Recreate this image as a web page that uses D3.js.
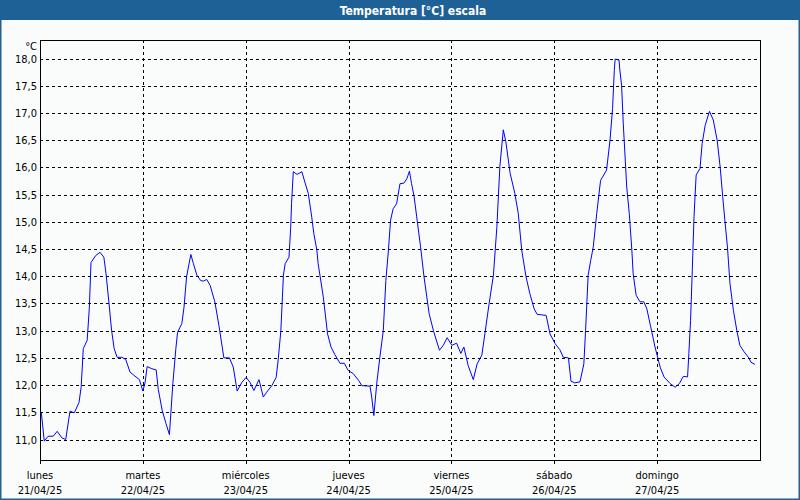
<!DOCTYPE html>
<html><head><meta charset="utf-8">
<script src="https://cdn.jsdelivr.net/npm/d3@7"></script>
<style>
html,body{margin:0;padding:0;background:#fafcfc;}
svg{display:block;}
text{font-family:'DejaVu Sans Condensed','Liberation Sans',sans-serif;}
</style></head>
<body><svg id="c" width="800" height="500"></svg>
<script>
const title = "Temperatura [°C] escala";
const unit = "°C";
const dayNames = ["lunes","martes","miércoles","jueves","viernes","sábado","domingo"];
const dayDates = ["21/04/25","22/04/25","23/04/25","24/04/25","25/04/25","26/04/25","27/04/25"];
const yTicks = [11.0,11.5,12.0,12.5,13.0,13.5,14.0,14.5,15.0,15.5,16.0,16.5,17.0,17.5,18.0];
// hours since lunes 21/04/25 00:00
const hours = [0.3,1.0,1.9,3.1,4.0,5.1,6.0,7.0,8.0,9.1,9.6,10.1,11.0,11.5,11.9,13.0,14.0,14.9,15.4,16.1,16.7,17.3,18.0,19.1,20.0,21.0,21.9,23.2,
24.0,24.5,25.0,26.1,27.1,27.6,28.5,29.4,30.2,31.0,31.7,32.1,33.1,33.6,34.2,35.2,35.8,36.6,37.5,38.1,38.9,39.7,40.8,41.8,42.9,44.2,45.1,46.0,47.1,
48.1,49.0,49.9,51.1,52.1,52.9,54.1,55.1,55.6,56.2,56.8,57.2,58.1,58.5,58.7,59.1,60.0,61.1,61.8,62.6,63.4,63.9,64.6,64.9,66.1,67.1,67.9,68.8,70.0,71.0,71.9,
73.1,74.3,75.1,77.0,77.4,77.9,78.6,79.3,80.1,80.7,81.3,81.8,82.4,83.2,84.0,84.9,85.6,86.2,86.7,87.3,87.9,88.8,89.6,90.8,91.8,93.2,94.1,95.0,
96.1,97.2,98.2,98.9,99.9,101.1,102.0,103.1,103.8,104.8,105.8,106.6,107.3,108.1,108.7,109.7,110.8,111.6,112.4,113.4,114.3,115.3,116.0,118.1,119.0,
120.2,121.3,122.1,123.3,123.9,124.8,126.0,126.9,127.3,127.9,128.5,129.1,129.9,130.8,132.2,133.0,133.6,134.0,134.2,135.1,135.3,135.7,136.1,136.9,137.5,138.1,138.4,139.1,140.0,140.9,141.6,142.5,143.5,
144.7,145.6,147.0,148.2,149.2,150.1,151.1,151.4,151.8,152.2,152.6,153.1,154.0,154.5,155.2,156.2,157.1,158.0,158.7,159.3,159.8,160.4,161.0,161.8,162.6,163.3,164.3,165.3,165.9,166.8];
const temps = [11.50,10.97,11.06,11.06,11.15,11.03,11.00,11.52,11.49,11.68,11.96,12.67,12.82,13.40,14.25,14.38,14.44,14.35,14.05,13.50,13.01,12.67,12.51,12.51,12.47,12.24,12.18,12.10,
11.89,12.04,12.34,12.30,12.28,11.92,11.54,11.29,11.09,12.03,12.67,12.97,13.13,13.43,13.99,14.40,14.23,14.02,13.92,13.91,13.94,13.83,13.53,13.07,12.50,12.50,12.33,11.89,12.05,
12.14,12.05,11.90,12.10,11.78,11.87,11.99,12.14,12.48,13.00,14.02,14.23,14.35,14.90,15.34,15.92,15.87,15.92,15.73,15.52,15.09,14.78,14.48,14.23,13.62,12.94,12.70,12.56,12.40,12.40,12.27,
12.21,12.09,11.99,11.98,11.78,11.44,12.05,12.51,13.00,13.92,14.48,15.03,15.24,15.33,15.70,15.71,15.79,15.93,15.70,15.46,15.09,14.54,13.99,13.31,13.00,12.64,12.73,12.87,
12.73,12.77,12.58,12.70,12.36,12.10,12.39,12.55,12.94,13.50,14.02,14.90,16.01,16.69,16.47,15.89,15.52,15.15,14.48,13.99,13.68,13.40,13.30,13.28,12.94,
12.76,12.65,12.51,12.50,12.07,12.04,12.06,12.39,13.00,14.02,14.29,14.54,15.15,15.76,15.95,16.50,17.08,17.78,17.99,17.97,17.79,17.51,16.80,15.64,15.15,14.48,14.05,13.65,13.53,13.53,13.40,13.07,12.70,
12.33,12.15,12.03,11.96,12.03,12.16,12.15,12.58,13.19,14.11,15.09,15.86,15.98,16.44,16.77,17.03,16.87,16.50,16.01,15.46,15.03,14.54,13.86,13.37,13.00,12.73,12.61,12.51,12.42,12.38];

const W = 800, H = 500;
const plot = {l:40, t:40, r:760, b:460};
const svg = d3.select("#c");
const x = d3.scaleLinear().domain([0, 168]).range([plot.l, plot.r]);
const y = d3.scaleLinear().domain([11, 18]).range([439.5, 58.5]);

svg.append("rect").attr("x",0).attr("y",0).attr("width",W).attr("height",H).attr("fill","#fafcfc");
// title bar
svg.append("rect").attr("x",0).attr("y",0).attr("width",W).attr("height",20).attr("fill","#1e6197");
svg.append("text").attr("x",413).attr("y",14.5).attr("text-anchor","middle")
  .attr("fill","#ffffff").attr("font-weight","bold").attr("font-size","12px").text(title);
// outer frame
svg.append("rect").attr("x",0.75).attr("y",0.75).attr("width",W-1.5).attr("height",H-1.5)
  .attr("fill","none").attr("stroke","#1e6197").attr("stroke-width",1.5);

const g = svg.append("g");
// horizontal grid
g.selectAll("line.hg").data(yTicks).join("line").attr("class","hg")
  .attr("x1",plot.l).attr("x2",plot.r)
  .attr("y1",d=>Math.round(y(d))+0.5).attr("y2",d=>Math.round(y(d))+0.5)
  .attr("stroke","#000").attr("stroke-width",1).attr("stroke-dasharray","3,3").attr("shape-rendering","crispEdges");
// vertical grid
const days = d3.range(dayNames.length);
g.selectAll("line.vg").data(days.slice(1)).join("line").attr("class","vg")
  .attr("x1",d=>Math.round(x(d*24))+0.5).attr("x2",d=>Math.round(x(d*24))+0.5)
  .attr("y1",plot.t).attr("y2",plot.b)
  .attr("stroke","#000").attr("stroke-width",1).attr("stroke-dasharray","3,3").attr("shape-rendering","crispEdges");
// ticks below
g.selectAll("line.tk").data(days).join("line").attr("class","tk")
  .attr("x1",d=>Math.round(x(d*24))+0.5).attr("x2",d=>Math.round(x(d*24))+0.5)
  .attr("y1",plot.b).attr("y2",plot.b+4)
  .attr("stroke","#000").attr("shape-rendering","crispEdges");
// y labels
g.selectAll("text.yl").data(yTicks).join("text").attr("class","yl")
  .attr("x",37).attr("y",d=>y(d)+4).attr("text-anchor","end").attr("font-size","11px").attr("fill","#000")
  .text(d=>d3.format(".1f")(d).replace(".",","));
g.append("text").attr("x",37).attr("y",50).attr("text-anchor","end").attr("font-size","11px").text(unit);
// x labels
g.selectAll("text.dn").data(days).join("text").attr("class","dn")
  .attr("x",d=>x(d*24)).attr("y",479).attr("text-anchor","middle").attr("font-size","11px").text(d=>dayNames[d]);
g.selectAll("text.dd").data(days).join("text").attr("class","dd")
  .attr("x",d=>x(d*24)).attr("y",494).attr("text-anchor","middle").attr("font-size","11px").text(d=>dayDates[d]);

// line
const pts = hours.map((h,i)=>[h,temps[i]]);
g.append("path").datum(pts).attr("fill","none").attr("stroke","#0000ff").attr("stroke-width",1)
  .attr("d", d3.line().x(d=>x(d[0])).y(d=>y(d[1])));
// plot border
g.append("rect").attr("x",plot.l+0.5).attr("y",plot.t+0.5).attr("width",plot.r-plot.l).attr("height",plot.b-plot.t)
  .attr("fill","none").attr("stroke","#000").attr("stroke-width",1).attr("shape-rendering","crispEdges");
</script></body></html>
